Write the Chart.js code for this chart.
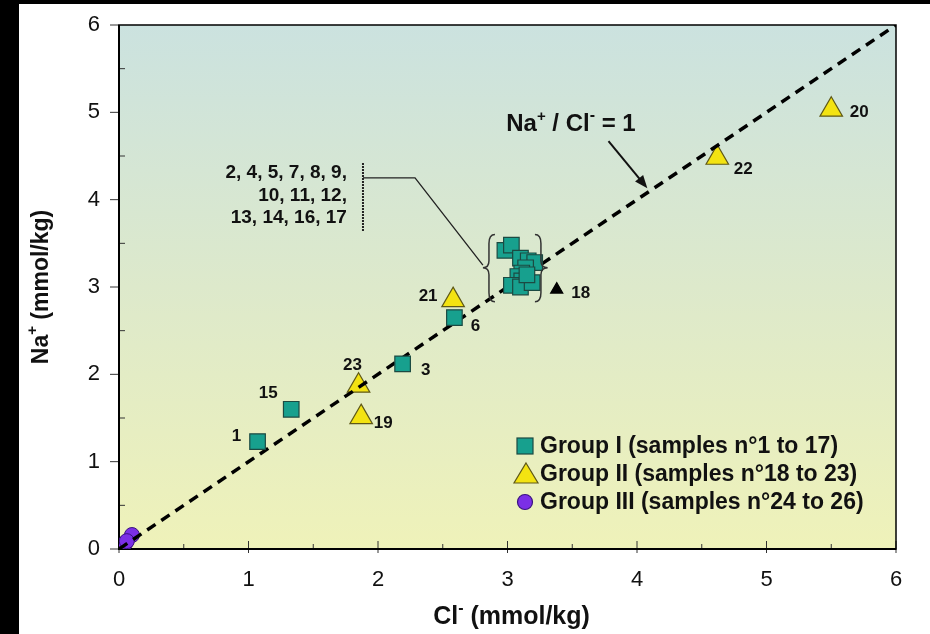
<!DOCTYPE html>
<html><head><meta charset="utf-8">
<script src="https://cdn.jsdelivr.net/npm/chart.js@4.4.0/dist/chart.umd.min.js"></script>
<style>html,body{margin:0;padding:0;background:#fff;}#wrap{width:930px;height:634px;}</style>
</head><body><div id="wrap"><canvas id="c" width="930" height="634"></canvas></div>
<script>
// ---- data ----
const axisTicks = [0, 1, 2, 3, 4, 5, 6];
const groupI_cl = [1.07, 1.33, 2.19, 2.59, 2.98, 3.03, 3.10, 3.16, 3.21, 3.14, 3.11, 3.08, 3.11, 3.03, 3.10, 3.19, 3.15];
const groupI_na = [1.23, 1.60, 2.12, 2.65, 3.42, 3.48, 3.33, 3.30, 3.28, 3.22, 3.16, 3.12, 3.07, 3.02, 3.00, 3.05, 3.14];
const groupI_labels = ['1', '15', '3', '6', '', '', '', '', '', '', '', '', '', '', '', '', ''];
const groupII_cl = [3.38, 1.87, 5.50, 2.58, 4.62, 1.85];
const groupII_na = [2.97, 1.51, 5.03, 2.85, 4.48, 1.87];
const groupII_labels = ['18', '19', '20', '21', '22', '23'];
const groupIII_cl = [0.05, 0.10, 0.06];
const groupIII_na = [0.07, 0.16, 0.09];
const ratioLine_cl = [0, 6];
const ratioLine_na = [0, 6];
const clusterText = ['2, 4, 5, 7, 8, 9,', '10, 11, 12,', '13, 14, 16, 17'];
const legendTexts = ['Group I (samples n°1 to 17)', 'Group II (samples n°18 to 23)', 'Group III (samples n°24 to 26)'];

// ---- style ----
const FONT = '"Liberation Sans", Arial, Helvetica, sans-serif';
const TEAL = '#17a08e', TEAL_B = '#1c4a42';
const YEL = '#f3e312', YEL_B = '#5e5818';
const PUR = '#7b2fe6', PUR_B = '#3a1380';
const labelOffsets = { '1': [-21, -5], '15': [-23, -16], '3': [23, 6], '6': [21, 9], '18': [24, 4], '19': [22, 6], '20': [28, 3], '21': [-25, -4], '22': [26, 12], '23': [-6, -20] };

const pts = (xs, ys) => xs.map((x, i) => ({ x, y: ys[i] }));

function line(ctx, x1, y1, x2, y2) { ctx.beginPath(); ctx.moveTo(x1, y1); ctx.lineTo(x2, y2); ctx.stroke(); }

function drawParts(ctx, parts, x, y, align) {
  let total = 0;
  parts.forEach(p => { ctx.font = 'bold ' + p[1] + 'px ' + FONT; total += ctx.measureText(p[0]).width; });
  let cx = align === 'center' ? x - total / 2 : x;
  ctx.textAlign = 'left';
  parts.forEach(p => { ctx.font = 'bold ' + p[1] + 'px ' + FONT; ctx.fillText(p[0], cx, y - p[2]); cx += ctx.measureText(p[0]).width; });
}

const bgPlugin = {
  id: 'bg',
  beforeDraw(chart) {
    const { ctx, chartArea: a, width, height } = chart;
    ctx.save();
    ctx.fillStyle = '#fff'; ctx.fillRect(0, 0, width, height);
    ctx.fillStyle = '#000'; ctx.fillRect(0, 0, 19, height); ctx.fillRect(0, 0, width, 4);
    const g = ctx.createLinearGradient(0, a.top, 0, a.bottom);
    g.addColorStop(0, '#cbe2df'); g.addColorStop(0.5, '#dde9cb'); g.addColorStop(1, '#eff2b9');
    ctx.fillStyle = g; ctx.fillRect(a.left, a.top, a.right - a.left, a.bottom - a.top);
    ctx.restore();
  },
  beforeDatasetsDraw(chart) {
    const { ctx, chartArea: a, scales: { x: xs, y: ys } } = chart;
    ctx.save();
    ctx.strokeStyle = '#333'; ctx.lineWidth = 1;
    for (let v = 0; v <= 6; v += 0.5) {
      const py = ys.getPixelForValue(v), px = xs.getPixelForValue(v);
      if (Number.isInteger(v)) { line(ctx, a.left - 9, py, a.left, py); line(ctx, px, a.bottom + 4, px, a.bottom - 8); }
      else { line(ctx, a.left, py, a.left + 6, py); line(ctx, px, a.bottom, px, a.bottom - 5); }
    }
    ctx.strokeStyle = '#000';
    ctx.lineWidth = 1.5; ctx.strokeRect(a.left, a.top, a.right - a.left, a.bottom - a.top);
    ctx.lineWidth = 2; line(ctx, a.left, a.top, a.left, a.bottom + 1); line(ctx, a.left - 1, a.bottom, a.right, a.bottom);
    ctx.restore();
  },
  afterDatasetsDraw(chart) {
    const { ctx, chartArea: a, scales: { x: xs, y: ys } } = chart;
    const X = v => xs.getPixelForValue(v), Y = v => ys.getPixelForValue(v);
    ctx.save();
    ctx.fillStyle = '#111';
    ctx.textBaseline = 'middle'; ctx.textAlign = 'center';
    ctx.font = 'bold 17px ' + FONT;
    chart.data.datasets.forEach((ds, i) => {
      if (!ds.sampleLabels) return;
      chart.getDatasetMeta(i).data.forEach((pt, j) => {
        const lab = ds.sampleLabels[j]; if (!lab) return;
        const o = labelOffsets[lab];
        ctx.fillText(lab, pt.x + o[0], pt.y + o[1]);
      });
    });
    // ratio annotation
    ctx.textBaseline = 'alphabetic';
    drawParts(ctx, [['Na', 24, 0], ['+', 15, 10], [' / Cl', 24, 0], ['-', 16, 11], [' = 1', 24, 0]], X(2.99), Y(4.88) + 8, 'left');
    ctx.strokeStyle = '#111'; ctx.lineWidth = 2;
    const ax1 = X(3.78), ay1 = Y(4.67), ax2 = X(4.08), ay2 = Y(4.13);
    const ang = Math.atan2(ay2 - ay1, ax2 - ax1);
    line(ctx, ax1, ay1, ax2 - Math.cos(ang) * 8, ay2 - Math.sin(ang) * 8);
    ctx.beginPath(); ctx.moveTo(ax2, ay2);
    ctx.lineTo(ax2 - Math.cos(ang - 0.38) * 14, ay2 - Math.sin(ang - 0.38) * 14);
    ctx.lineTo(ax2 - Math.cos(ang + 0.38) * 14, ay2 - Math.sin(ang + 0.38) * 14);
    ctx.closePath(); ctx.fillStyle = '#111'; ctx.fill();
    // cluster annotation
    ctx.font = 'bold 19px ' + FONT; ctx.textAlign = 'right'; ctx.textBaseline = 'middle';
    const ty = [4.31, 4.04, 3.79];
    clusterText.forEach((t, i) => ctx.fillText(t, X(1.76), Y(ty[i])));
    ctx.strokeStyle = '#222'; ctx.lineWidth = 2; ctx.setLineDash([2, 1]);
    line(ctx, X(1.884), Y(4.42), X(1.884), Y(3.64));
    ctx.setLineDash([]); ctx.lineWidth = 1.3;
    ctx.beginPath(); ctx.moveTo(X(1.884), Y(4.25)); ctx.lineTo(X(2.286), Y(4.25)); ctx.lineTo(X(2.81), Y(3.25)); ctx.stroke();
    // braces
    ctx.strokeStyle = '#333'; ctx.lineWidth = 1.5;
    const brace = (xe, xs2, sx, yt, ym, yb) => {
      ctx.beginPath();
      ctx.moveTo(xe, yt);
      ctx.quadraticCurveTo(xs2, yt, xs2, yt + 9);
      ctx.lineTo(xs2, ym - 7);
      ctx.quadraticCurveTo(xs2, ym, sx, ym);
      ctx.quadraticCurveTo(xs2, ym, xs2, ym + 7);
      ctx.lineTo(xs2, yb - 9);
      ctx.quadraticCurveTo(xs2, yb, xe, yb);
      ctx.stroke();
    };
    brace(X(2.88) + 3, X(2.88) - 3, X(2.81), Y(3.60), Y(3.22), Y(2.83));
    brace(X(3.235) - 3, X(3.235) + 3, X(3.31), Y(3.60), Y(3.22), Y(2.83));
    // legend
    const lx = a.left + 406, rows = [a.top + 421, a.top + 449, a.top + 477];
    ctx.lineWidth = 1.2;
    ctx.fillStyle = TEAL; ctx.strokeStyle = TEAL_B;
    ctx.fillRect(lx - 8, rows[0] - 8, 16, 16); ctx.strokeRect(lx - 8, rows[0] - 8, 16, 16);
    ctx.beginPath(); ctx.moveTo(lx + 1, rows[1] - 11); ctx.lineTo(lx + 13, rows[1] + 9); ctx.lineTo(lx - 11, rows[1] + 9); ctx.closePath();
    ctx.fillStyle = YEL; ctx.strokeStyle = YEL_B; ctx.fill(); ctx.stroke();
    ctx.beginPath(); ctx.arc(lx, rows[2], 7.5, 0, Math.PI * 2); ctx.fillStyle = PUR; ctx.strokeStyle = PUR_B; ctx.fill(); ctx.stroke();
    ctx.fillStyle = '#111'; ctx.textAlign = 'left'; ctx.textBaseline = 'middle'; ctx.font = 'bold 23px ' + FONT;
    legendTexts.forEach((t, i) => ctx.fillText(t, lx + 15, rows[i] + 1));
    ctx.restore();
  },
  afterDraw(chart) {
    const { ctx, chartArea: a } = chart;
    ctx.save(); ctx.fillStyle = '#111'; ctx.textBaseline = 'alphabetic';
    drawParts(ctx, [['Cl', 25, 0], ['-', 16, 11], [' (mmol/kg)', 25, 0]], (a.left + a.right) / 2 + 4, 624, 'center');
    ctx.translate(48, (a.top + a.bottom) / 2); ctx.rotate(-Math.PI / 2);
    drawParts(ctx, [['Na', 23, 0], ['+', 15, 11], [' (mmol/kg)', 23, 0]], 0, 0, 'center');
    ctx.restore();
  }
};

new Chart(document.getElementById('c'), {
  type: 'scatter',
  data: {
    datasets: [
      { label: legendTexts[0], data: pts(groupI_cl, groupI_na), sampleLabels: groupI_labels, pointStyle: 'rect', pointRadius: 11, pointHoverRadius: 11,
        backgroundColor: TEAL, borderColor: TEAL_B, borderWidth: 1.2, order: 0 },
      { type: 'line', label: 'Na+/Cl- = 1', data: pts(ratioLine_cl, ratioLine_na), borderColor: '#000', borderWidth: 3.5, borderDash: [10, 7],
        pointRadius: 0, fill: false, showLine: true, order: 1 },
      { label: legendTexts[1], data: pts(groupII_cl, groupII_na), sampleLabels: groupII_labels, pointStyle: 'triangle',
        pointRadius: [7, 13, 13, 13, 13, 13], pointHoverRadius: [7, 13, 13, 13, 13, 13],
        backgroundColor: ['#000', YEL, YEL, YEL, YEL, YEL], borderColor: ['#000', YEL_B, YEL_B, YEL_B, YEL_B, YEL_B], borderWidth: 1.2, order: 2 },
      { label: legendTexts[2], data: pts(groupIII_cl, groupIII_na), pointStyle: 'circle', pointRadius: 7.5, pointHoverRadius: 7.5,
        backgroundColor: PUR, borderColor: PUR_B, borderWidth: 1, order: 3 }
    ]
  },
  options: {
    responsive: false, animation: false, devicePixelRatio: 1,
    layout: { padding: { left: 0, top: 25, right: 34, bottom: 0 } },
    plugins: { legend: { display: false }, tooltip: { enabled: false } },
    scales: {
      x: { type: 'linear', min: 0, max: 6, afterFit: s => { s.height = 85; s.paddingLeft = 0; s.paddingRight = 0; },
        afterBuildTicks: s => { s.ticks = axisTicks.map(v => ({ value: v })); },
        grid: { display: true, drawOnChartArea: false, drawTicks: false }, border: { display: false },
        ticks: { padding: 18, color: '#111', font: { family: FONT, size: 22 } } },
      y: { type: 'linear', min: 0, max: 6, afterFit: s => { s.width = 119; s.paddingTop = 0; s.paddingBottom = 0; },
        afterBuildTicks: s => { s.ticks = axisTicks.map(v => ({ value: v })); },
        grid: { display: true, drawOnChartArea: false, drawTicks: false }, border: { display: false },
        ticks: { padding: 19, color: '#111', font: { family: FONT, size: 22 } } }
    }
  },
  plugins: [bgPlugin]
});
</script></body></html>
